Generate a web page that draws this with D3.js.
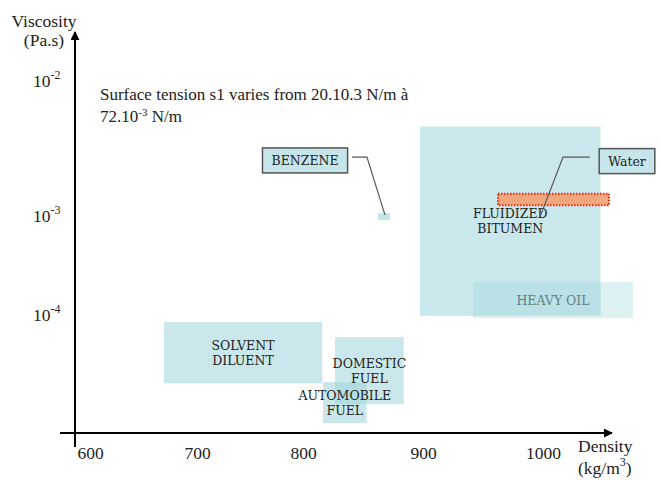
<!DOCTYPE html>
<html>
<head>
<meta charset="utf-8">
<script src="https://cdn.jsdelivr.net/npm/d3@7/dist/d3.min.js"></script>
<style>
  html, body { margin: 0; padding: 0; background: #fff; }
  svg { display: block; }
</style>
</head>
<body>
<svg id="chart" width="660" height="481"></svg>
<script>
// ---------------- data ----------------
const densityTicks = [600, 700, 800, 900, 1000];
const viscosityTicks = [1e-4, 1e-3, 1e-2];
const viscosityExponents = ["-4", "-3", "-2"];

// regions (density in kg/m3, viscosity in Pa.s)
const regionNames   = ["FLUIDIZED|BITUMEN", "HEAVY OIL", "SOLVENT|DILUENT", "DOMESTIC|FUEL", "AUTOMOBILE|FUEL", "", ""];
const regionKeys    = ["bitumen", "heavy", "solvent", "domestic", "auto", "benzene", "water"];
const densityMin    = [897.5, 941.7, 669.0, 826.7, 816.7, 862.5, 962.5];
const densityMax    = [1048.0, 1075.0, 816.0, 884.0, 853.0, 872.5, 1055.0];
const viscosityMin  = [9.7e-5, 9.2e-5, 2.0e-5, 1.23e-5, 7.9e-6, 9.1e-4, 1.2e-3];
const viscosityMax  = [4.6e-3, 2.14e-4, 8.4e-5, 5.9e-5, 2.06e-5, 1.05e-3, 1.46e-3];

// callouts: label, label centre, leader polyline (density, viscosity)
const calloutLabels   = ["BENZENE", "Water"];
const calloutDensity  = [801.7, 1070.0];
const calloutVisc     = [2.58e-3, 2.55e-3];
const leaderDensity   = [[840.8, 853.3, 868.3], [1039.0, 1016.7, 997.5]];
const leaderVisc      = [[2.73e-3, 2.73e-3, 1.02e-3], [2.73e-3, 2.73e-3, 9.8e-4]];

// ---------------- drawing ----------------
const svg = d3.select("#chart");
const serif = "'Liberation Serif', 'Times New Roman', serif";
const labelFont = "'DejaVu Serif', serif";

// piecewise scales matching the hand-placed axis labels of the original
const x = d3.scaleLinear().domain(densityTicks).range([90, 197, 303, 423, 543]);
const y = d3.scaleLog().domain(viscosityTicks).range([314.5, 216, 81]);

const regions = regionKeys.map((k, i) => ({
  key: k, name: regionNames[i],
  x0: densityMin[i], x1: densityMax[i], y0: viscosityMin[i], y1: viscosityMax[i]
}));

const styleOf = {
  bitumen:  { fill: "#9fd5db", op: 0.55 },
  heavy:    { fill: "#9fd5db", op: 0.35 },
  solvent:  { fill: "#9fd5db", op: 0.55 },
  domestic: { fill: "#9fd5db", op: 0.55 },
  auto:     { fill: "#9fd5db", op: 0.55 },
  benzene:  { fill: "#9fd5db", op: 0.6 },
  water:    { fill: "#f4a070", op: 0.9 }
};

const gRegions = svg.append("g");
gRegions.selectAll("rect").data(regions).join("rect")
  .attr("x", d => x(d.x0))
  .attr("y", d => y(d.y1))
  .attr("width", d => x(d.x1) - x(d.x0))
  .attr("height", d => y(d.y0) - y(d.y1))
  .attr("fill", d => styleOf[d.key].fill)
  .attr("fill-opacity", d => styleOf[d.key].op)
  .attr("stroke", d => d.key === "water" ? "#e02a1c" : "none")
  .attr("stroke-width", d => d.key === "water" ? 2 : 0)
  .attr("stroke-dasharray", d => d.key === "water" ? "1.5,1.5" : null);

// region labels (centred in boxes)
const gLabels = svg.append("g")
  .attr("font-family", labelFont).attr("font-size", 12.5).attr("text-anchor", "middle");
regions.filter(d => d.name).forEach(d => {
  const lines = d.name.split("|");
  const cx = (x(d.x0) + x(d.x1)) / 2;
  const cy = (y(d.y0) + y(d.y1)) / 2;
  const lh = 15;
  const t = gLabels.append("text")
    .attr("fill", d.key === "heavy" ? "#5f7f86" : "#222");
  lines.forEach((ln, j) => {
    t.append("tspan")
      .attr("x", cx)
      .attr("y", cy + (j - (lines.length - 1) / 2) * lh + 4.5)
      .text(ln);
  });
});

// callouts
const line = d3.line();
calloutLabels.forEach((lab, i) => {
  const pts = leaderDensity[i].map((dv, j) => [x(dv), y(leaderVisc[i][j])]);
  svg.append("path").attr("d", line(pts))
    .attr("fill", "none").attr("stroke", "#555").attr("stroke-width", 1.2);
  const cx = x(calloutDensity[i]), cy = y(calloutVisc[i]);
  const g = svg.append("g");
  const t = g.append("text")
    .attr("x", cx).attr("y", cy + 4.5)
    .attr("text-anchor", "middle")
    .attr("font-family", labelFont).attr("font-size", 12.5)
    .attr("fill", "#222").text(lab);
  const bb = t.node().getBBox();
  g.insert("rect", "text")
    .attr("x", bb.x - 9).attr("y", cy - 12.5)
    .attr("width", bb.width + 18).attr("height", 25)
    .attr("fill", "#c6e5ea").attr("stroke", "#555").attr("stroke-width", 1.5);
});

// axes lines with arrows
svg.append("defs").append("marker")
  .attr("id", "arrow").attr("viewBox", "0 0 10 10")
  .attr("refX", 9).attr("refY", 5)
  .attr("markerWidth", 4.5).attr("markerHeight", 4.5)
  .attr("orient", "auto")
  .append("path").attr("d", "M0,0 L10,5 L0,10 z").attr("fill", "#000");

svg.append("line").attr("x1", 75).attr("y1", 447).attr("x2", 75).attr("y2", 32)
  .attr("stroke", "#000").attr("stroke-width", 2).attr("marker-end", "url(#arrow)");
svg.append("line").attr("x1", 60).attr("y1", 433).attr("x2", 612).attr("y2", 433)
  .attr("stroke", "#000").attr("stroke-width", 2).attr("marker-end", "url(#arrow)");

// x tick labels via axis
const xAxis = d3.axisBottom(x).tickValues(densityTicks).tickSize(0).tickFormat(d3.format("d"));
const gx = svg.append("g").attr("transform", "translate(0,444)").call(xAxis);
gx.select(".domain").remove();
gx.selectAll("text").attr("font-family", serif).attr("font-size", 17.5).attr("fill", "#222").attr("dy", "0.71em");

// y tick labels (10 with superscript exponent)
const gy = svg.append("g").attr("font-family", serif).attr("fill", "#222");
viscosityTicks.forEach((v, i) => {
  const t = gy.append("text").attr("x", 33).attr("y", y(v) + 6).attr("font-size", 17.5);
  t.append("tspan").text("10");
  t.append("tspan").attr("font-size", 12).attr("dy", -8).text(viscosityExponents[i]);
});

// axis titles
const titles = svg.append("g").attr("font-family", serif).attr("fill", "#222").attr("font-size", 17.5);
titles.append("text").attr("x", 44).attr("y", 27).attr("text-anchor", "middle").text("Viscosity");
titles.append("text").attr("x", 44).attr("y", 46).attr("text-anchor", "middle").text("(Pa.s)");
titles.append("text").attr("x", 578).attr("y", 452).text("Density");
const kg = titles.append("text").attr("x", 578).attr("y", 474);
kg.append("tspan").text("(kg/m");
kg.append("tspan").attr("font-size", 12).attr("dy", -8).text("3");
kg.append("tspan").attr("dy", 8).text(")");

// annotation
const ann = svg.append("g").attr("font-family", serif).attr("fill", "#222").attr("font-size", 17);
ann.append("text").attr("x", 100).attr("y", 100).text("Surface tension s1 varies from 20.10.3 N/m à");
const a2 = ann.append("text").attr("x", 100).attr("y", 122);
a2.append("tspan").text("72.10");
a2.append("tspan").attr("font-size", 11).attr("dy", -6).text("-3");
a2.append("tspan").attr("dy", 6).text(" N/m");
</script>
</body>
</html>
